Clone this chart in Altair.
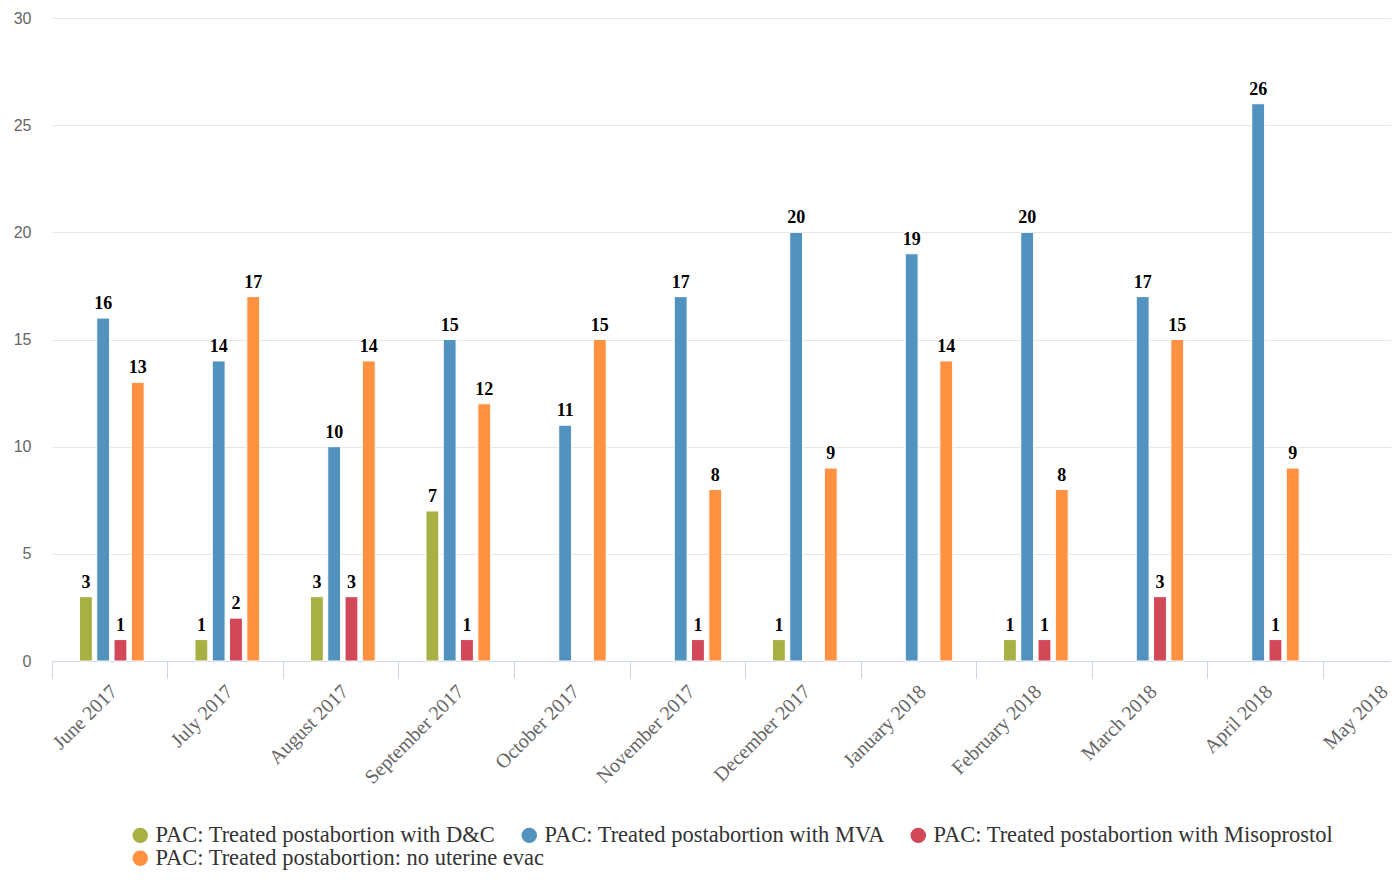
import altair as alt
import pandas as pd

months = ["June 2017", "July 2017", "August 2017", "September 2017", "October 2017",
          "November 2017", "December 2017", "January 2018", "February 2018",
          "March 2018", "April 2018", "May 2018"]
series_names = ["PAC: Treated postabortion with D&C",
                "PAC: Treated postabortion with MVA",
                "PAC: Treated postabortion with Misoprostol",
                "PAC: Treated postabortion: no uterine evac"]
dc = [3, 1, 3, 7, 0, 0, 1, 0, 1, 0, 0, 0]
mva = [16, 14, 10, 15, 11, 17, 20, 19, 20, 17, 26, 0]
miso = [1, 2, 3, 1, 0, 1, 0, 0, 1, 3, 1, 0]
no_evac = [13, 17, 14, 12, 15, 8, 9, 14, 8, 15, 9, 0]
colors = ["#a7b042", "#5292be", "#d24858", "#ff9140"]

rows = []
for name, vals in zip(series_names, [dc, mva, miso, no_evac]):
    for m, v in zip(months, vals):
        rows.append({"month": m, "series": name, "value": v})
df = pd.DataFrame(rows)

serif = "Liberation Serif"

x_enc = alt.X("month:N", sort=months,
              scale=alt.Scale(domain=months, range=[0, 1386], paddingInner=0.29, paddingOuter=0.145),
              axis=alt.Axis(title=None, labelAngle=-45, labelFont=serif, labelFontSize=20,
                            labelColor="#666666", tickColor="#ccd6eb", tickSize=17,
                            tickOffset=-57.75, labelOffset=54.75,
                            domainColor="#ccd6eb", labelPadding=3,
                            grid=False, labelOverlap=False, labelLimit=300))
xoff = alt.XOffset("series:N", sort=series_names,
                   scale=alt.Scale(domain=series_names, paddingInner=0.257, paddingOuter=0.5,
                                   align=0.62))
y_enc = alt.Y("value:Q", scale=alt.Scale(domain=[0, 30]),
              axis=alt.Axis(title=None, values=[0, 5, 10, 15, 20, 25, 30], domain=False,
                            ticks=False, labelFont="Liberation Sans", labelFontSize=16,
                            labelColor="#666666", labelPadding=21, gridColor="#e6e6e6"))

legend_common = dict(title=None, orient="none", direction="horizontal",
                     symbolType="circle", symbolSize=240, symbolStrokeWidth=0,
                     labelFont=serif, labelFontSize=22.5, labelColor="#333333",
                     columnPadding=22, labelOffset=4, labelLimit=600, symbolOpacity=1,
                     padding=0)

base = alt.Chart(df).transform_filter("datum.value > 0")

bars_a = base.transform_filter(alt.FieldOneOfPredicate(field="series", oneOf=series_names[:3])).mark_bar(
    stroke="white", strokeWidth=1).encode(
    x=x_enc, xOffset=xoff, y=y_enc,
    color=alt.Color("series:N", sort=series_names[:3],
                    scale=alt.Scale(domain=series_names[:3], range=colors[:3]),
                    legend=alt.Legend(legendX=77, legendY=806, columns=3, **legend_common))
)
bars_b = base.transform_filter(alt.FieldOneOfPredicate(field="series", oneOf=series_names[3:])).mark_bar(
    stroke="white", strokeWidth=1).encode(
    x=x_enc, xOffset=xoff, y=y_enc,
    color=alt.Color("series:N", sort=series_names[3:],
                    scale=alt.Scale(domain=series_names[3:], range=colors[3:]),
                    legend=alt.Legend(legendX=77, legendY=829, columns=1, **legend_common))
)

halo = base.mark_text(baseline="alphabetic", dy=-9, font=serif, fontSize=18, fontWeight="bold",
                      stroke="white", strokeWidth=3, color="white").encode(
    x=x_enc, xOffset=xoff, y=y_enc, text=alt.Text("value:Q"))
labels = base.mark_text(baseline="alphabetic", dy=-9, font=serif, fontSize=18, fontWeight="bold",
                        color="#000000").encode(
    x=x_enc, xOffset=xoff, y=y_enc, text=alt.Text("value:Q"))

chart = alt.layer(bars_a, bars_b, halo, labels).resolve_scale(color="independent").properties(
    width=1339, height=643,
    autosize=alt.AutoSizeParams(type="none"),
    padding={"left": 44, "top": 10, "right": 0, "bottom": 211},
).configure_view(stroke=None)

chart.save("out.html", embed_options={"renderer": "svg", "actions": False})
